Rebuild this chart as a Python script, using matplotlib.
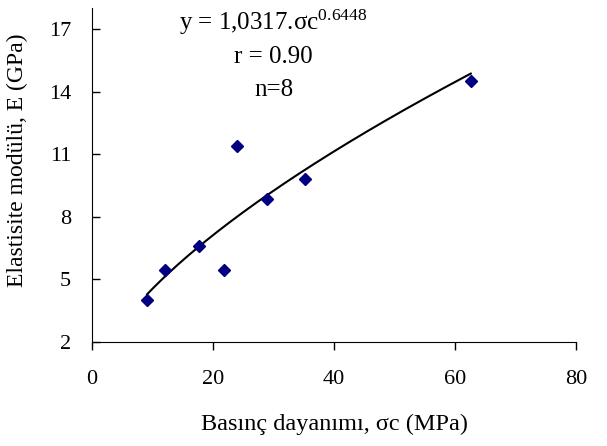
import numpy as np
import matplotlib
matplotlib.use("Agg")
import matplotlib.pyplot as plt

plt.rcParams["font.family"] = ["Liberation Serif", "DejaVu Serif"]
plt.rcParams["mathtext.fontset"] = "custom"
plt.rcParams["mathtext.rm"] = "Liberation Serif"
plt.rcParams["mathtext.it"] = "Liberation Serif:italic"

# ölçüm verileri
sigma_c = [9.1, 12.1, 17.7, 21.8, 24.0, 29.0, 35.2, 62.6]
e_mod = [4.0, 5.43, 6.59, 5.43, 11.38, 8.86, 9.81, 14.49]

# güç fonksiyonu trend çizgisi katsayıları
fit_a = 1.0317
fit_b = 0.6448

xticks = [0, 20, 40, 60, 80]
yticks = [2, 5, 8, 11, 14, 17]

fig = plt.figure(figsize=(6.07, 4.46), dpi=100)
ax = fig.add_axes([0.1516, 0.2332, 0.7974, 0.7488])

xs = np.linspace(min(sigma_c), max(sigma_c), 200)
ax.plot(xs, fit_a * xs ** fit_b, color="black", lw=1.5, zorder=2)
ax.plot(sigma_c, e_mod, "D", color="#000080", markersize=6, zorder=3)

ax.set_xlim(0, 80)
ax.set_ylim(2, 18)
ax.set_xticks(xticks)
ax.set_yticks(yticks)
ax.tick_params(axis="x", direction="out", length=6, width=1, labelsize=16, pad=14)
ax.tick_params(axis="y", direction="in", length=6, width=1, labelsize=16, pad=15)
ax.spines["top"].set_visible(False)
ax.spines["right"].set_visible(False)

ax.set_xlabel(r"Basınç dayanımı, σc (MPa)", fontsize=17.5, labelpad=18)
ax.set_ylabel("Elastisite modülü, E (GPa)", fontsize=17)
ax.yaxis.set_label_coords(-0.132, 0.545)

ax.text(14.3, 17.3, r"y = 1,0317.σc$^{0.6448}$", fontsize=18, ha="left", va="center")
ax.text(30.0, 15.65, "r = 0.90", fontsize=18, ha="center", va="center")
ax.text(30.0, 14.05, "n=8", fontsize=18, ha="center", va="center")

fig.savefig("out.png", dpi=100)
